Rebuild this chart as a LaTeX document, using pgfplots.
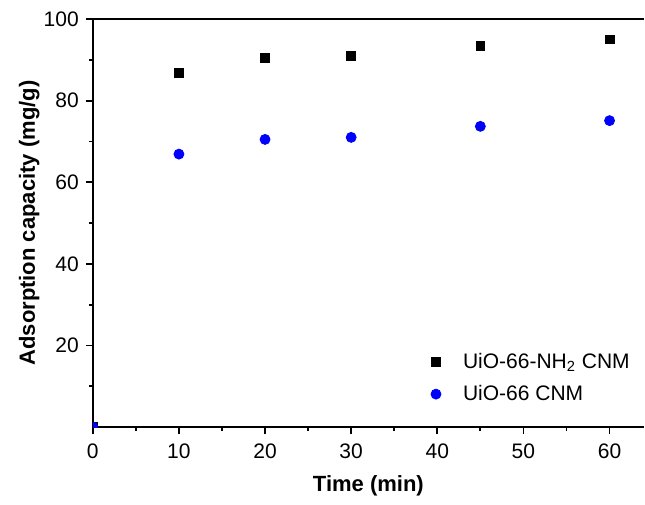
\documentclass[border=0pt]{standalone}
\usepackage{pgfplots}
\pgfplotsset{compat=1.18}
\usepackage{fontspec}
\setmainfont{Liberation Sans}
\begin{document}
\begin{tikzpicture}
\begin{axis}[
    scale only axis,
    width=275.5pt,
    height=204pt,
    xmin=0, xmax=64,
    ymin=0, ymax=100,
    axis x line*=box,
    axis y line*=left,
    xtick pos=bottom,
    ytick pos=left,
    xtick={0,10,20,30,40,50,60},
    ytick={20,40,60,80,100},
    minor xtick={5,15,25,35,45,55},
    minor ytick={10,30,50,70,90},
    tick align=outside,
    major tick length=3.5pt,
    minor tick length=2pt,
    every tick/.style={black, line width=0.9pt},
    axis line style={line width=1pt},
    clip marker paths=true,
    /pgf/number format/assume math mode=true,
    tick label style={font=\fontsize{10.5}{12}\selectfont},
    xticklabel style={yshift=-1.5pt},
    xlabel={\textbf{Time (min)}},
    ylabel={\textbf{Adsorption capacity (mg/g)}},
    label style={font=\fontsize{11}{13}\selectfont},
    xlabel style={yshift=-1.5pt},
    ylabel style={inner ysep=9.5pt, yshift=-11pt},
    legend style={at={(0.993,0.038)}, anchor=south east, draw=none, fill=none,
        font=\fontsize{10.5}{12}\selectfont, row sep=3pt,
        /tikz/every odd column/.append style={column sep=9pt}},
    legend cell align=left,
]
\addplot[only marks, mark=square*, mark size=2.2pt, black]
    coordinates {(0,0)(10,86.7)(20,90.4)(30,90.9)(45,93.5)(60,95.0)};
\addlegendentry{UiO-66-NH\textsubscript{2} CNM}
\addplot[only marks, mark=*, mark size=2.5pt, blue, mark options={fill=blue}]
    coordinates {(0,0)(10,66.9)(20,70.5)(30,71.0)(45,73.7)(60,75.1)};
\addlegendentry{UiO-66 CNM}
\end{axis}
% page margins as in the reference
\path ([yshift=9.5pt]current axis.north) ([yshift=-38.5pt]current axis.south);
\end{tikzpicture}
\end{document}
